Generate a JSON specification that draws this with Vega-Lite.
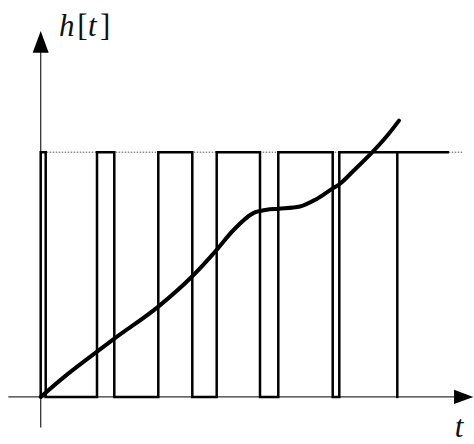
{
  "$schema": "https://vega.github.io/schema/vega-lite/v6.json",
  "width": 474,
  "height": 444,
  "autosize": {"type": "fit", "contains": "padding"},
  "padding": 0,
  "background": "white",
  "view": {"stroke": null},
  "datasets": {
    "wave": [
      {"seg": "a", "i": 0, "t": 0, "h": 0},
      {"seg": "a", "i": 1, "t": 0, "h": 1},
      {"seg": "a", "i": 2, "t": 5, "h": 1},
      {"seg": "a", "i": 3, "t": 5, "h": 0},
      {"seg": "a", "i": 4, "t": 56.3, "h": 0},
      {"seg": "a", "i": 5, "t": 56.3, "h": 1},
      {"seg": "a", "i": 6, "t": 73.6, "h": 1},
      {"seg": "a", "i": 7, "t": 73.6, "h": 0},
      {"seg": "a", "i": 8, "t": 117.6, "h": 0},
      {"seg": "a", "i": 9, "t": 117.6, "h": 1},
      {"seg": "a", "i": 10, "t": 151.6, "h": 1},
      {"seg": "a", "i": 11, "t": 151.6, "h": 0},
      {"seg": "a", "i": 12, "t": 176, "h": 0},
      {"seg": "a", "i": 13, "t": 176, "h": 1},
      {"seg": "a", "i": 14, "t": 219.3, "h": 1},
      {"seg": "a", "i": 15, "t": 219.3, "h": 0},
      {"seg": "a", "i": 16, "t": 237.6, "h": 0},
      {"seg": "a", "i": 17, "t": 237.6, "h": 1},
      {"seg": "a", "i": 18, "t": 292, "h": 1},
      {"seg": "a", "i": 19, "t": 292, "h": 0},
      {"seg": "a", "i": 20, "t": 298.6, "h": 0},
      {"seg": "a", "i": 21, "t": 298.6, "h": 1},
      {"seg": "a", "i": 22, "t": 407, "h": 1},
      {"seg": "b", "i": 0, "t": 356.6, "h": 1},
      {"seg": "b", "i": 1, "t": 356.6, "h": 0}
    ],
    "curve": [
      {"t": 0, "h": 0},
      {"t": 26, "h": 0.09},
      {"t": 56, "h": 0.184},
      {"t": 73.6, "h": 0.238},
      {"t": 117.6, "h": 0.369},
      {"t": 151.6, "h": 0.493},
      {"t": 176, "h": 0.601},
      {"t": 192.6, "h": 0.681},
      {"t": 212.6, "h": 0.751},
      {"t": 226, "h": 0.765},
      {"t": 237.6, "h": 0.769},
      {"t": 259.3, "h": 0.778},
      {"t": 276, "h": 0.809},
      {"t": 292, "h": 0.852},
      {"t": 298.6, "h": 0.869},
      {"t": 312.6, "h": 0.923},
      {"t": 332.6, "h": 1.004},
      {"t": 346, "h": 1.065},
      {"t": 358.3, "h": 1.129}
    ],
    "axes": [
      {"name": "t", "t1": -32.4, "h1": 0, "t2": 415, "h2": 0},
      {"name": "h", "t1": 0, "h1": -0.125, "t2": 0, "h2": 1.44}
    ],
    "level": [
      {"t1": 0, "t2": 422, "h": 1}
    ],
    "arrows": [
      {"dir": "up", "t": 0, "h": 1.451},
      {"dir": "right", "t": 423, "h": 0}
    ],
    "labels": [
      {"text": "h", "t": 18.4, "h": 1.474, "italic": true},
      {"text": "[", "t": 36.6, "h": 1.474, "italic": false},
      {"text": "t", "t": 47.2, "h": 1.474, "italic": true},
      {"text": "]", "t": 59.2, "h": 1.474, "italic": false},
      {"text": "t", "t": 414, "h": -0.165, "italic": true}
    ]
  },
  "layer": [
    {
      "data": {"name": "level"},
      "mark": {"type": "rule", "color": "#555555", "strokeWidth": 1, "strokeDash": [1.5, 1.5]},
      "encoding": {
        "x": {"field": "t1", "type": "quantitative", "scale": {"domain": [-40.7, 433.3], "nice": false, "zero": false}, "axis": null},
        "x2": {"field": "t2"},
        "y": {"field": "h", "type": "quantitative", "scale": {"domain": [-0.168, 1.622], "nice": false, "zero": false}, "axis": null}
      }
    },
    {
      "data": {"name": "axes"},
      "mark": {"type": "rule", "color": "#333333", "strokeWidth": 1.3},
      "encoding": {
        "x": {"field": "t1", "type": "quantitative"},
        "x2": {"field": "t2"},
        "y": {"field": "h1", "type": "quantitative"},
        "y2": {"field": "h2"}
      }
    },
    {
      "data": {"name": "arrows"},
      "transform": [{"filter": "datum.dir === 'up'"}],
      "mark": {"type": "point", "filled": true, "color": "#000000", "opacity": 1, "strokeWidth": 0, "size": 466, "shape": "M0,-1L0.74,1L-0.74,1Z"},
      "encoding": {
        "x": {"field": "t", "type": "quantitative"},
        "y": {"field": "h", "type": "quantitative"}
      }
    },
    {
      "data": {"name": "arrows"},
      "transform": [{"filter": "datum.dir === 'right'"}],
      "mark": {"type": "point", "filled": true, "color": "#000000", "opacity": 1, "strokeWidth": 0, "size": 372, "shape": "M1,0L-1,-0.74L-1,0.74Z"},
      "encoding": {
        "x": {"field": "t", "type": "quantitative"},
        "y": {"field": "h", "type": "quantitative"}
      }
    },
    {
      "data": {"name": "wave"},
      "mark": {"type": "line", "color": "#000000", "strokeWidth": 2.5, "strokeJoin": "miter", "strokeCap": "square"},
      "encoding": {
        "x": {"field": "t", "type": "quantitative"},
        "y": {"field": "h", "type": "quantitative"},
        "detail": {"field": "seg"},
        "order": {"field": "i", "type": "quantitative"}
      }
    },
    {
      "data": {"name": "curve"},
      "mark": {"type": "line", "color": "#000000", "strokeWidth": 4, "strokeCap": "round", "interpolate": "monotone"},
      "encoding": {
        "x": {"field": "t", "type": "quantitative"},
        "y": {"field": "h", "type": "quantitative"}
      }
    },
    {
      "data": {"name": "labels"},
      "transform": [{"filter": "datum.italic"}],
      "mark": {"type": "text", "font": "Liberation Serif", "fontStyle": "italic", "fontSize": 31, "align": "left", "baseline": "alphabetic", "color": "#111111"},
      "encoding": {
        "x": {"field": "t", "type": "quantitative"},
        "y": {"field": "h", "type": "quantitative"},
        "text": {"field": "text"}
      }
    },
    {
      "data": {"name": "labels"},
      "transform": [{"filter": "!datum.italic"}],
      "mark": {"type": "text", "font": "Liberation Serif", "fontSize": 31, "align": "left", "baseline": "alphabetic", "color": "#111111"},
      "encoding": {
        "x": {"field": "t", "type": "quantitative"},
        "y": {"field": "h", "type": "quantitative"},
        "text": {"field": "text"}
      }
    }
  ]
}
